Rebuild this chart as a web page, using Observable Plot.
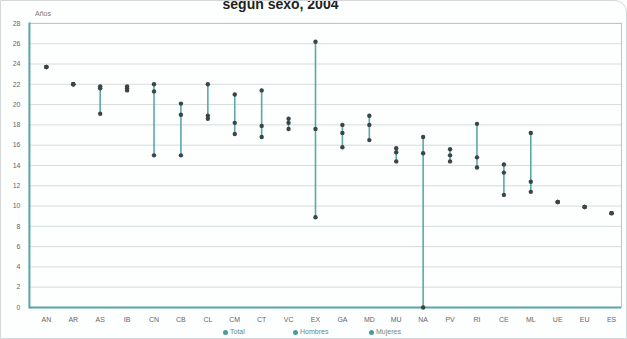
<!DOCTYPE html>
<html><head><meta charset="utf-8">
<script src="https://cdn.jsdelivr.net/npm/d3@7"></script>
<script src="https://cdn.jsdelivr.net/npm/@observablehq/plot@0.6"></script>
<style>
body{margin:0;background:#fff;font-family:"Liberation Sans",Arial,sans-serif;}
#wrap{position:relative;width:625px;height:337px;border:1px solid #d4d8d8;border-top-right-radius:12px;overflow:hidden;background:#fdfefe;}
#title{position:absolute;top:-5px;left:0;width:100%;text-align:center;font-weight:bold;font-size:14px;color:#222;padding-right:66px;box-sizing:border-box;}
#unit{position:absolute;top:9px;left:34px;font-size:7px;color:#777;}
#legend{position:absolute;top:327px;left:0;width:100%;font-size:7px;color:#6a8a8a;}
#legend span{position:absolute;white-space:nowrap;}
#legend i{display:inline-block;width:5px;height:5px;border-radius:50%;margin-right:2px;vertical-align:middle;}
#chart{position:absolute;top:0;left:0;}
</style></head><body>
<div id="wrap">
<div id="chart"></div>
<div id="title">según sexo, 2004</div>
<div id="unit">Años</div>
<div id="legend"></div>
</div>
<script>
const categories = ["AN","AR","AS","IB","CN","CB","CL","CM","CT","VC","EX","GA","MD","MU","NA","PV","RI","CE","ML","UE","EU","ES"];
const serieMujeres = [23.7,22.0,21.8,21.8,22.0,20.1,22.0,21.0,21.4,18.6,26.2,18.0,18.9,15.7,16.8,15.6,18.1,14.1,17.2,10.4,9.9,9.3];
const serieTotal   = [23.7,22.0,21.6,21.6,21.3,19.0,18.9,18.2,17.9,18.2,17.6,17.2,18.0,15.3,15.2,15.0,14.8,13.3,12.4,10.4,9.9,9.3];
const serieHombres = [23.7,22.0,19.1,21.4,15.0,15.0,18.6,17.1,16.8,17.6,8.9,15.8,16.5,14.4,0,14.4,13.8,11.1,11.4,10.4,9.9,9.3];
const yTicks = [0,2,4,6,8,10,12,14,16,18,20,22,24,26,28];
const seriesNames = ["Total","Hombres","Mujeres"];

const ranges = categories.map((c,i)=>{
  const v=[serieMujeres[i],serieTotal[i],serieHombres[i]];
  return {cat:c,lo:Math.min(...v),hi:Math.max(...v)};
});
const pts = [];
categories.forEach((c,i)=>{
  pts.push({cat:c,v:serieTotal[i],s:"Total"});
  pts.push({cat:c,v:serieHombres[i],s:"Hombres"});
  pts.push({cat:c,v:serieMujeres[i],s:"Mujeres"});
});

const plot = Plot.plot({
  width:627, height:339,
  marginLeft:28, marginRight:5, marginTop:22, marginBottom:32,
  style:{background:"transparent",fontSize:"7px",color:"#666",fontFamily:"Liberation Sans, Arial, sans-serif"},
  x:{type:"point",domain:categories,padding:0,insetLeft:14,insetRight:7,label:null,tickSize:0,tickPadding:10},
  y:{domain:[0,28],ticks:yTicks,label:null,tickSize:0,tickPadding:9},
  marks:[
    Plot.gridY(yTicks,{stroke:"#c4cece",strokeOpacity:0.7,strokeWidth:1}),
    Plot.frame({stroke:"#a6cccc",strokeWidth:1}),
    Plot.frame({anchor:"left",stroke:"#5aa5a5",strokeWidth:2}),
    Plot.ruleY([0],{stroke:"#5aa5a5",strokeWidth:2}),
    Plot.ruleX(ranges,{x:"cat",y1:"lo",y2:"hi",stroke:"#3c9a9a",strokeWidth:1.6,strokeOpacity:0.85}),
    Plot.dot(pts,{x:"cat",y:"v",r:2.2,fill:"#3a4646",stroke:"none"})
  ]
});
document.getElementById("chart").appendChild(plot);

const leg=document.getElementById("legend");
const lx=[222,292,368];
seriesNames.forEach((n,i)=>{
  const s=document.createElement("span");
  s.style.left=lx[i]+"px";
  s.innerHTML='<i style="background:#4a9a9a"></i>'+n;
  leg.appendChild(s);
});
</script>
</body></html>
